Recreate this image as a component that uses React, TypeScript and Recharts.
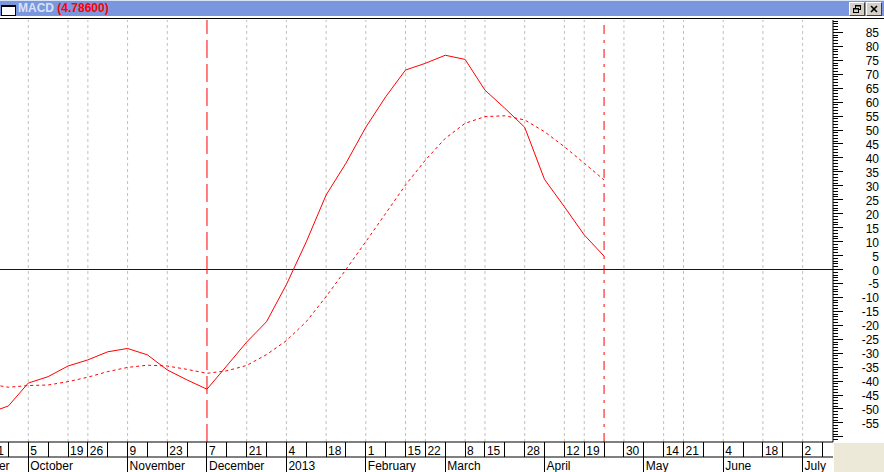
import React from 'react';
import { LineChart, Line, XAxis, YAxis, ReferenceLine } from 'recharts';

// Week index: 0 = 28 Sep 2012, weekly bars
const WEEKS = [-1, 0, 1, 2, 3, 4, 5, 6, 7, 8, 9, 10, 11, 12, 13, 14, 15, 16, 17, 18, 19, 20, 21, 22, 23, 24, 25, 26, 27, 28, 29, 30];
const MACD = [-51.5, -48.9, -40.7, -38.4, -34.6, -32.4, -29.5, -28.3, -30.6, -36.0, -39.6, -42.9, -34.5, -26.0, -18.7, -5.4, 9.9, 26.7, 38.1, 51.0, 61.9, 71.5, 73.9, 76.8, 75.3, 64.3, 57.8, 51.0, 32.3, 22.5, 12.4, 4.786];
const SIGNAL = [-41.0, -42.2, -41.6, -41.4, -40.2, -38.6, -36.6, -35.1, -34.3, -34.6, -35.8, -37.2, -36.3, -34.4, -30.5, -25.5, -18.7, -9.7, 0.0, 10.0, 20.1, 30.3, 39.2, 47.0, 52.4, 54.8, 55.1, 53.6, 49.4, 44.0, 38.1, 32.1];

const DATE_TICK_WEEKS = [-1, 1, 3, 4, 6, 8, 10, 12, 14, 16, 18, 20, 21, 23, 24, 26, 28, 29, 31, 33, 34, 36, 38, 40];
const DATE_TICK_LABELS = ['21', '5', '19', '26', '9', '23', '7', '21', '4', '18', '1', '15', '22', '8', '15', '28', '12', '19', '30', '14', '21', '4', '18', '2'];
const MONTH_WEEKS = [-3, 1, 6, 10, 14, 18, 22, 27, 32, 36, 40];
const MONTH_LABELS = ['September', 'October', 'November', 'December', '2013', 'February', 'March', 'April', 'May', 'June', 'July'];
const GRID_WEEKS = [1, 3, 4, 6, 8, 12, 14, 16, 18, 20, 21, 23, 24, 26, 28, 29, 31, 33, 34, 36, 38, 40];
const DASHED_MARKER_WEEK = 10;
const DASHDOT_MARKER_WEEK = 30;
const TITLE = 'MACD';
const TITLE_VALUE = '(4.78600)';
const Y_LABEL_MIN = -55;
const Y_LABEL_MAX = 85;

const X_MIN = -0.425;
const X_MAX = 41.53;
const Y_MIN = -61.83;
const Y_MAX = 89.43;

const ALL_WEEK_TICKS: number[] = [];
for (let w = -1; w <= 41; w++) ALL_WEEK_TICKS.push(w);
const Y_TICKS: number[] = [];
for (let v = -61; v <= 89; v++) Y_TICKS.push(v);

const data = WEEKS.map((w, i) => ({ week: w, macd: MACD[i], signal: SIGNAL[i] }));

const FONT = '"Liberation Sans", Arial, sans-serif';

const DateTick = (props: any) => {
  const { x, y, payload } = props;
  const idx = DATE_TICK_WEEKS.indexOf(payload.value);
  return (
    <g>
      <line x1={x} y1={y} x2={x} y2={y + 15} stroke="#000" shapeRendering="crispEdges" />
      {idx >= 0 && (
        <text x={x + 2} y={y + 13} fontSize={12} fontFamily={FONT} fill="#000">
          {DATE_TICK_LABELS[idx]}
        </text>
      )}
    </g>
  );
};

const MonthTick = (props: any) => {
  const { x, y, payload } = props;
  const idx = MONTH_WEEKS.indexOf(payload.value);
  return (
    <g>
      <line x1={x} y1={y} x2={x} y2={y + 15} stroke="#000" shapeRendering="crispEdges" />
      {idx >= 0 && (
        <text x={x + 2} y={y + 13} fontSize={12} fontFamily={FONT} fill="#000">
          {MONTH_LABELS[idx]}
        </text>
      )}
    </g>
  );
};

const YTick = (props: any) => {
  const { x, y, payload } = props;
  const v = payload.value;
  const major = v % 5 === 0;
  const showLabel = major && v >= Y_LABEL_MIN && v <= Y_LABEL_MAX;
  return (
    <g>
      <line x1={x} y1={y} x2={x + (major ? 10 : 5)} y2={y} stroke="#000" shapeRendering="crispEdges" />
      {showLabel && (
        <text x={x + 46} y={y} dy={5} textAnchor="end" fontSize={12} fontFamily={FONT} fill="#000">
          {v}
        </text>
      )}
    </g>
  );
};

const Button = ({ left, children }: { left: number; children: React.ReactNode }) => (
  <div
    style={{
      position: 'absolute',
      left,
      top: 2,
      width: 14,
      height: 12,
      background: '#D4D0C8',
      borderTop: '1px solid #FFFFFF',
      borderLeft: '1px solid #FFFFFF',
      borderBottom: '1px solid #404040',
      borderRight: '1px solid #404040',
    }}
  >
    <svg width={14} height={12} style={{ display: 'block' }}>
      {children}
    </svg>
  </div>
);

export default function App() {
  return (
    <div style={{ position: 'absolute', left: 0, top: 0, width: 884, height: 472, background: '#FFFFFF', overflow: 'hidden' }}>
      <LineChart width={884} height={472} data={data} margin={{ top: 20, right: 0, bottom: 0, left: 0 }}>
        <XAxis
          xAxisId="d"
          dataKey="week"
          type="number"
          domain={[X_MIN, X_MAX]}
          allowDataOverflow
          ticks={ALL_WEEK_TICKS}
          interval={0}
          height={15}
          tickSize={0}
          tickMargin={0}
          tickLine={false}
          axisLine={{ stroke: '#000' }}
          tick={<DateTick />}
        />
        <XAxis
          xAxisId="m"
          dataKey="week"
          type="number"
          domain={[X_MIN, X_MAX]}
          allowDataOverflow
          ticks={MONTH_WEEKS}
          interval={0}
          height={15}
          tickSize={0}
          tickMargin={0}
          tickLine={false}
          axisLine={{ stroke: '#000' }}
          tick={<MonthTick />}
        />
        <YAxis
          orientation="right"
          width={51}
          type="number"
          domain={[Y_MIN, Y_MAX]}
          allowDataOverflow
          ticks={Y_TICKS}
          interval={0}
          tickSize={0}
          tickMargin={0}
          tickLine={false}
          axisLine={{ stroke: '#000' }}
          tick={<YTick />}
        />
        {GRID_WEEKS.map((w) => (
          <ReferenceLine key={'g' + w} xAxisId="d" x={w} stroke="#C0C0C0" strokeDasharray="3 3" />
        ))}
        <ReferenceLine xAxisId="d" y={0} stroke="#0000C8" />
        <ReferenceLine xAxisId="d" x={DASHED_MARKER_WEEK} stroke="#FF0000" strokeDasharray="18 6" />
        <ReferenceLine xAxisId="d" x={DASHDOT_MARKER_WEEK} stroke="#FF0000" strokeDasharray="9 6 3 6" />
        <Line xAxisId="d" type="linear" dataKey="signal" stroke="#FF0000" strokeWidth={1} strokeDasharray="3 3" dot={false} activeDot={false} isAnimationActive={false} />
        <Line xAxisId="d" type="linear" dataKey="macd" stroke="#FF0000" strokeWidth={1} dot={false} activeDot={false} isAnimationActive={false} />
      </LineChart>

      {/* title bar */}
      <div style={{ position: 'absolute', left: 0, top: 0, width: 884, height: 1, background: '#D8E2F6' }} />
      <div style={{ position: 'absolute', left: 0, top: 1, width: 884, height: 15, background: '#7A96DF' }} />
      <div style={{ position: 'absolute', left: 0, top: 16, width: 884, height: 2, background: '#FFFFFF' }} />
      <div style={{ position: 'absolute', left: 0, top: 18, width: 884, height: 1, background: '#000000' }} />
      <div
        style={{
          position: 'absolute',
          left: 1,
          top: 5,
          width: 13,
          height: 8,
          background: '#FFFFFF',
          border: '1px solid #000',
          borderTop: '2px solid #000',
        }}
      />
      <div
        style={{
          position: 'absolute',
          left: 18,
          top: 1,
          height: 15,
          lineHeight: '15px',
          fontFamily: FONT,
          fontWeight: 'bold',
          fontSize: 12,
          whiteSpace: 'nowrap',
        }}
      >
        <span style={{ color: '#D8E2F8' }}>{TITLE}</span>{' '}
        <span style={{ color: '#FF0000' }}>{TITLE_VALUE}</span>
      </div>
      <Button left={849}>
        <rect x={5.5} y={2.5} width={5} height={4} fill="none" stroke="#000" />
        <line x1={5} y1={3} x2={11} y2={3} stroke="#000" />
        <rect x={3.5} y={5.5} width={5} height={4} fill="#D4D0C8" stroke="#000" />
        <line x1={3} y1={6} x2={9} y2={6} stroke="#000" />
      </Button>
      <Button left={866}>
        <line x1={4} y1={3} x2={10} y2={9} stroke="#000" strokeWidth={1.6} />
        <line x1={10} y1={3} x2={4} y2={9} stroke="#000" strokeWidth={1.6} />
      </Button>

      {/* bottom-right corner */}
      <div style={{ position: 'absolute', left: 834, top: 443, width: 50, height: 29, background: '#ECE9D8' }} />
    </div>
  );
}
